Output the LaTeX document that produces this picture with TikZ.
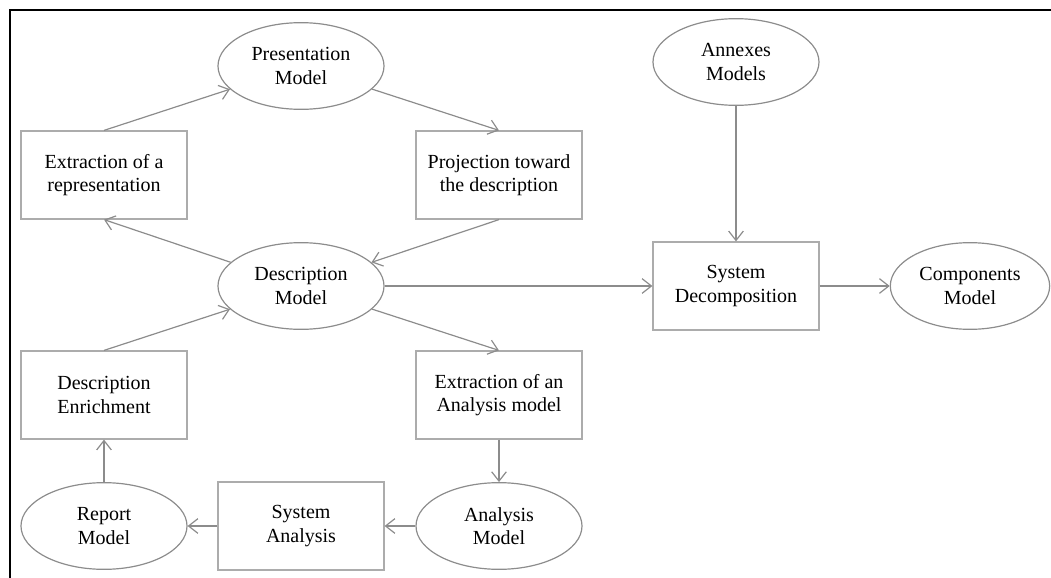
\documentclass[tikz,border=0pt]{standalone}
\usepackage{fontspec}
\setmainfont{Liberation Serif}
\usetikzlibrary{shapes.geometric,arrows.meta}
\definecolor{linegray}{RGB}{140,140,140}
\definecolor{boxgray}{RGB}{172,172,172}
\tikzstyle{every node}=[font=\fontsize{15}{17.5}\selectfont, align=center, inner sep=0pt]
\tikzstyle{task}=[draw=boxgray, line width=0.9pt, minimum width=124.5pt, minimum height=66pt]
\tikzstyle{model}=[ellipse, draw=linegray, line width=0.9pt, minimum width=124.5pt, minimum height=65pt]
\tikzstyle{flow}=[draw=linegray, line width=0.9pt, -{Straight Barb[length=7pt,width=11pt]}]

\begin{document}
\begin{tikzpicture}[x=0.75pt, y=-0.75pt]
	\useasboundingbox (0,0) rectangle (1051,578);
	%frame
	\draw[line width=2.2pt] (10,578) -- (10,10) -- (1051,10);
	%models
	\node[model] (pres) at (301,66) {Presentation\\Model};
	\node[model] (desc) at (301,286) {Description\\Model};
	\node[model] (annex) at (736,62) {Annexes\\Models};
	\node[model, minimum width=119.5pt] (comp) at (970,286) {Components\\Model};
	\node[model] (analysis) at (499,526) {Analysis\\Model};
	\node[model] (report) at (104,526) {Report\\Model};
	%tasks
	\node[task] (extrrep) at (104,175) {Extraction of a\\representation};
	\node[task] (proj) at (499,175) {Projection toward\\the description};
	\node[task] (decomp) at (736,286) {System\\Decomposition};
	\node[task] (extran) at (499,395) {Extraction of an\\Analysis model};
	\node[task] (enrich) at (104,395) {Description\\Enrichment};
	\node[task] (sysan) at (301,526) {System\\Analysis};
	%arrows
	\draw[flow] (extrrep.north) -- (pres);
	\draw[flow] (pres) -- (proj.north);
	\draw[flow] (proj.south) -- (desc);
	\draw[flow] (desc) -- (extrrep.south);
	\draw[flow] (desc.east) -- (decomp.west);
	\draw[flow] (annex.south) -- (decomp.north);
	\draw[flow] (decomp.east) -- (comp.west);
	\draw[flow] (desc) -- (extran.north);
	\draw[flow] (extran.south) -- (analysis.north);
	\draw[flow] (analysis.west) -- (sysan.east);
	\draw[flow] (sysan.west) -- (report.east);
	\draw[flow] (report.north) -- (enrich.south);
	\draw[flow] (enrich.north) -- (desc);
\end{tikzpicture}
\end{document}
